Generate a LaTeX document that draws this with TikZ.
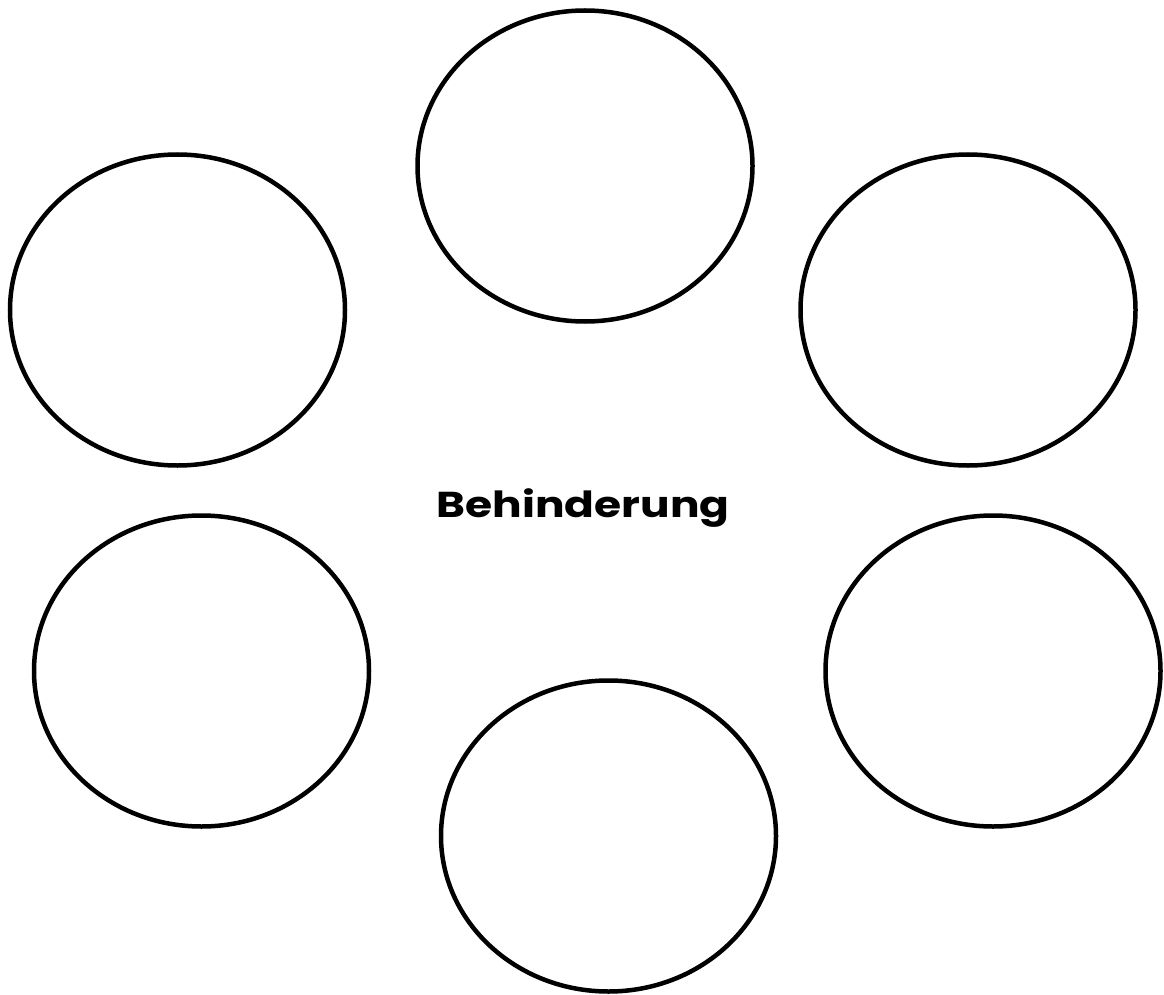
\documentclass[tikz,border=0pt]{standalone}
\usepackage{fontspec}
\usepackage{graphicx}
\setmainfont{Poppins}
\usetikzlibrary{shapes.geometric}
\begin{document}
\begin{tikzpicture}[x=1pt,y=-1pt,
  bubble/.style={draw=black,line width=4.5pt,ellipse,minimum width=335pt,minimum height=311pt,inner sep=0pt},
  title/.style={font=\fontsize{36}{42}\selectfont\bfseries,text=black,inner sep=0pt}]
\useasboundingbox (0,0) rectangle (1164,995);
\node[bubble] (top) at (585,166) {};
\node[bubble] (tl) at (177.5,310) {};
\node[bubble] (tr) at (968,310) {};
\node[bubble] (bl) at (201.5,671) {};
\node[bubble] (br) at (993,671) {};
\node[bubble] (bot) at (608.5,836) {};
\node[title,anchor=base] (center) at (583,517) {\scalebox{1.22}[1]{Behinderung}};
\end{tikzpicture}
\end{document}
